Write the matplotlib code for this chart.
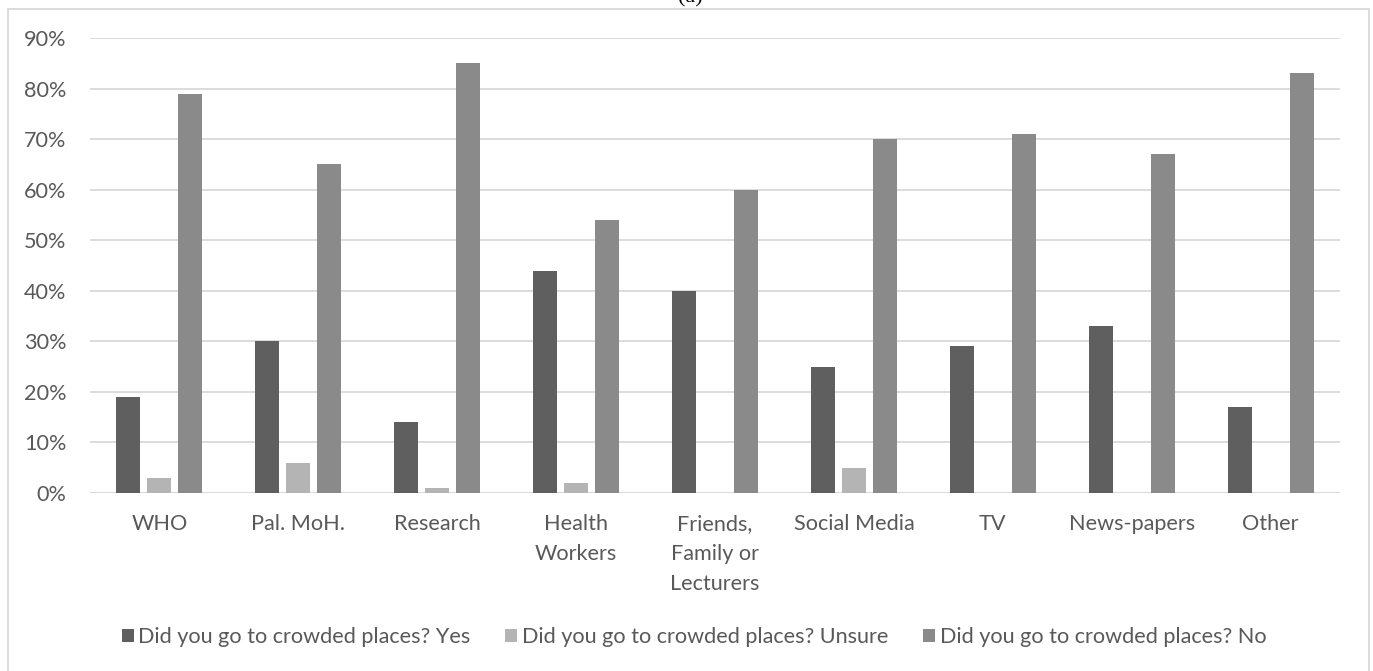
import matplotlib
matplotlib.use("Agg")
import matplotlib.pyplot as plt
import numpy as np
from matplotlib.patches import Rectangle

categories = ["WHO", "Pal. MoH.", "Research", "Health\nWorkers", "Friends,\nFamily or\nLecturers",
              "Social Media", "TV", "News-papers", "Other"]
yes_vals = [19, 30, 14, 44, 40, 25, 29, 33, 17]
unsure_vals = [3, 6, 1, 2, 0, 5, 0, 0, 0]
no_vals = [79, 65, 85, 54, 60, 70, 71, 67, 83]
series_names = ["Did you go to crowded places? Yes",
                "Did you go to crowded places? Unsure",
                "Did you go to crowded places? No"]
colors = ["#5f5f5f", "#b4b4b4", "#8a8a8a"]
yticks = [0, 10, 20, 30, 40, 50, 60, 70, 80, 90]

plt.rcParams['font.family'] = ['Lato', 'DejaVu Sans']
text_color = "#595959"
fs = 15.6

W, H = 1373, 671
fig = plt.figure(figsize=(W / 100, H / 100), dpi=100)
ax = fig.add_axes([90 / W, 1 - 493 / H, (1340 - 90) / W, (493 - 38) / H])

x = np.arange(len(categories))
bw = 24 / 139
step = 31 / 139
for i, (vals, c, name) in enumerate(zip([yes_vals, unsure_vals, no_vals], colors, series_names)):
    ax.bar(x + (i - 1) * step, vals, width=bw, color=c, label=name, zorder=3)

ax.set_xlim(-0.5, len(categories) - 0.5)
ax.set_ylim(0, 90)
ax.set_yticks(yticks)
ax.set_yticklabels([f"{t}%" for t in yticks])
ax.set_xticks(x)
ax.set_xticklabels(categories, linespacing=1.62)
ax.grid(axis='y', color="#d9d9d9", linewidth=1.3, zorder=0)
ax.set_axisbelow(True)
for s in ax.spines.values():
    s.set_visible(False)
ax.axhline(0, color="#d9d9d9", linewidth=1.5, zorder=2)
ax.tick_params(axis='both', length=0, labelsize=fs, colors=text_color)
ax.tick_params(axis='y', pad=17)
ax.tick_params(axis='x', pad=15)

leg = fig.legend(loc='center', bbox_to_anchor=(694 / W, 1 - 637 / H), ncol=3, frameon=False,
                 fontsize=fs, handlelength=0.55, handleheight=0.55, handletextpad=0.22,
                 columnspacing=1.6)
for t in leg.get_texts():
    t.set_color(text_color)

# chart border (bottom edge outside image)
fig.patches.append(Rectangle((8 / W, -0.01), (1369 - 8) / W, (H - 9) / H + 0.01,
                             transform=fig.transFigure, fill=False,
                             edgecolor="#d9d9d9", linewidth=1.3))

fig.text(690 / W, 1 + 2 / H, "(a)", ha='center', va='center', fontsize=16, color="black",
         family=['Liberation Serif', 'DejaVu Serif'])

fig.savefig("out.png", dpi=100)
